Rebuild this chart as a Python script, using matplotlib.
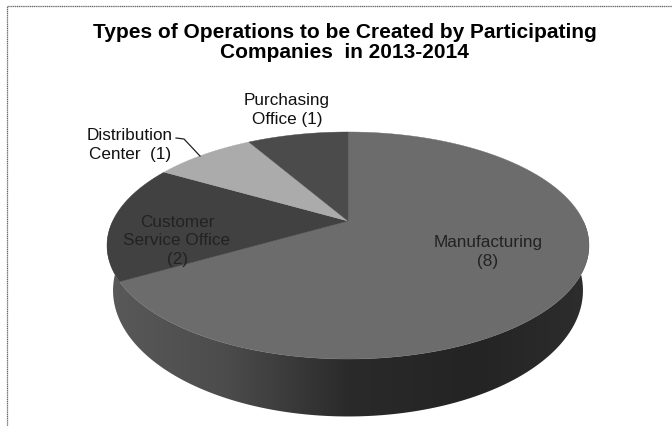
import numpy as np
import matplotlib
matplotlib.use('Agg')
import matplotlib.pyplot as plt
from matplotlib.colors import LinearSegmentedColormap

plt.rcParams['font.family'] = ['Liberation Sans', 'DejaVu Sans']

title = 'Types of Operations to be Created by Participating\nCompanies  in 2013-2014'
categories = ['Manufacturing', 'Customer Service Office', 'Distribution Center', 'Purchasing Office']
values = [8, 2, 1, 1]
labels = ['Manufacturing\n(8)', 'Customer\nService Office\n(2)', 'Distribution\nCenter  (1)', 'Purchasing\nOffice (1)']
top_colors = ['#6c6c6c', '#414141', '#ababab', '#4b4b4b']

# pie seen in perspective, everything in image pixels
cx = 348
a = 235.3
k = 0.2159
y0 = 222
d = -60.3


def project(ang):
    # ang is clockwise from 12 o'clock
    u = np.sin(ang)
    v = np.cos(ang)
    w = 1 + k*v
    return cx + a*u/w, (y0 + d*v)/w


def lower(xx, yy):
    # rim of the underside
    return cx + (xx - cx)*0.975, 292 + (yy - 247)*1.11


fig = plt.figure(figsize=(6.72, 4.27), dpi=100)
ax = fig.add_axes([0, 0, 1, 1])
ax.set_xlim(0, 672)
ax.set_ylim(427, 0)
ax.axis('off')

# frame, only top and left survive in the scan
ax.plot([7, 7, 672], [427, 7, 7], color='#666666', lw=0.9, ls=(0, (1, 0.5)))

# side wall, shaded from left to right
tt = np.linspace(np.pi/2, 3*np.pi/2, 300)
x1, y1 = project(tt)
x2, y2 = lower(x1, y1)
wall = ax.fill(np.r_[x1, x2[::-1]], np.r_[y1, y2[::-1]], color='none', lw=0)[0]
cmap = LinearSegmentedColormap.from_list('wall', ['#5a5a5a', '#4c4c4c', '#2a2a2a', '#242424', '#2e2e2e'])
img = ax.imshow(np.linspace(0, 1, 256).reshape(1, -1), extent=[100, 600, 427, 0], cmap=cmap, aspect='auto', zorder=1)
img.set_clip_path(wall)
ax.set_xlim(0, 672)
ax.set_ylim(427, 0)

# top face
edges = np.cumsum([0] + values)/np.sum(values)*2*np.pi
for ii in range(len(values)):
    ang = np.linspace(edges[ii], edges[ii + 1], 200)
    xx, yy = project(ang)
    ax.fill(np.r_[cx, xx], np.r_[y0, yy], color=top_colors[ii], lw=0.3, zorder=2)

# text
ax.text(344.5, 42.5, title, ha='center', va='center', fontsize=15, fontweight='bold',
        color='black', linespacing=1.0, zorder=4)
ax.text(488, 252, labels[0], ha='center', va='center', fontsize=12.3, color='#222222', linespacing=1.3, zorder=4)
ax.text(177, 241, labels[1], ha='center', va='center', fontsize=12.3, color='#222222', linespacing=1.3, zorder=4)
ax.text(130, 145, labels[2], ha='center', va='center', fontsize=12.3, color='#111111', linespacing=1.3, zorder=4)
ax.text(287, 110, labels[3], ha='center', va='center', fontsize=12.3, color='#111111', linespacing=1.3, zorder=4)

# leader line for distribution center
ax.plot([176, 184, 200], [139, 140, 157], color='#222222', lw=0.9, zorder=4)

fig.savefig('out.png', dpi=100)
